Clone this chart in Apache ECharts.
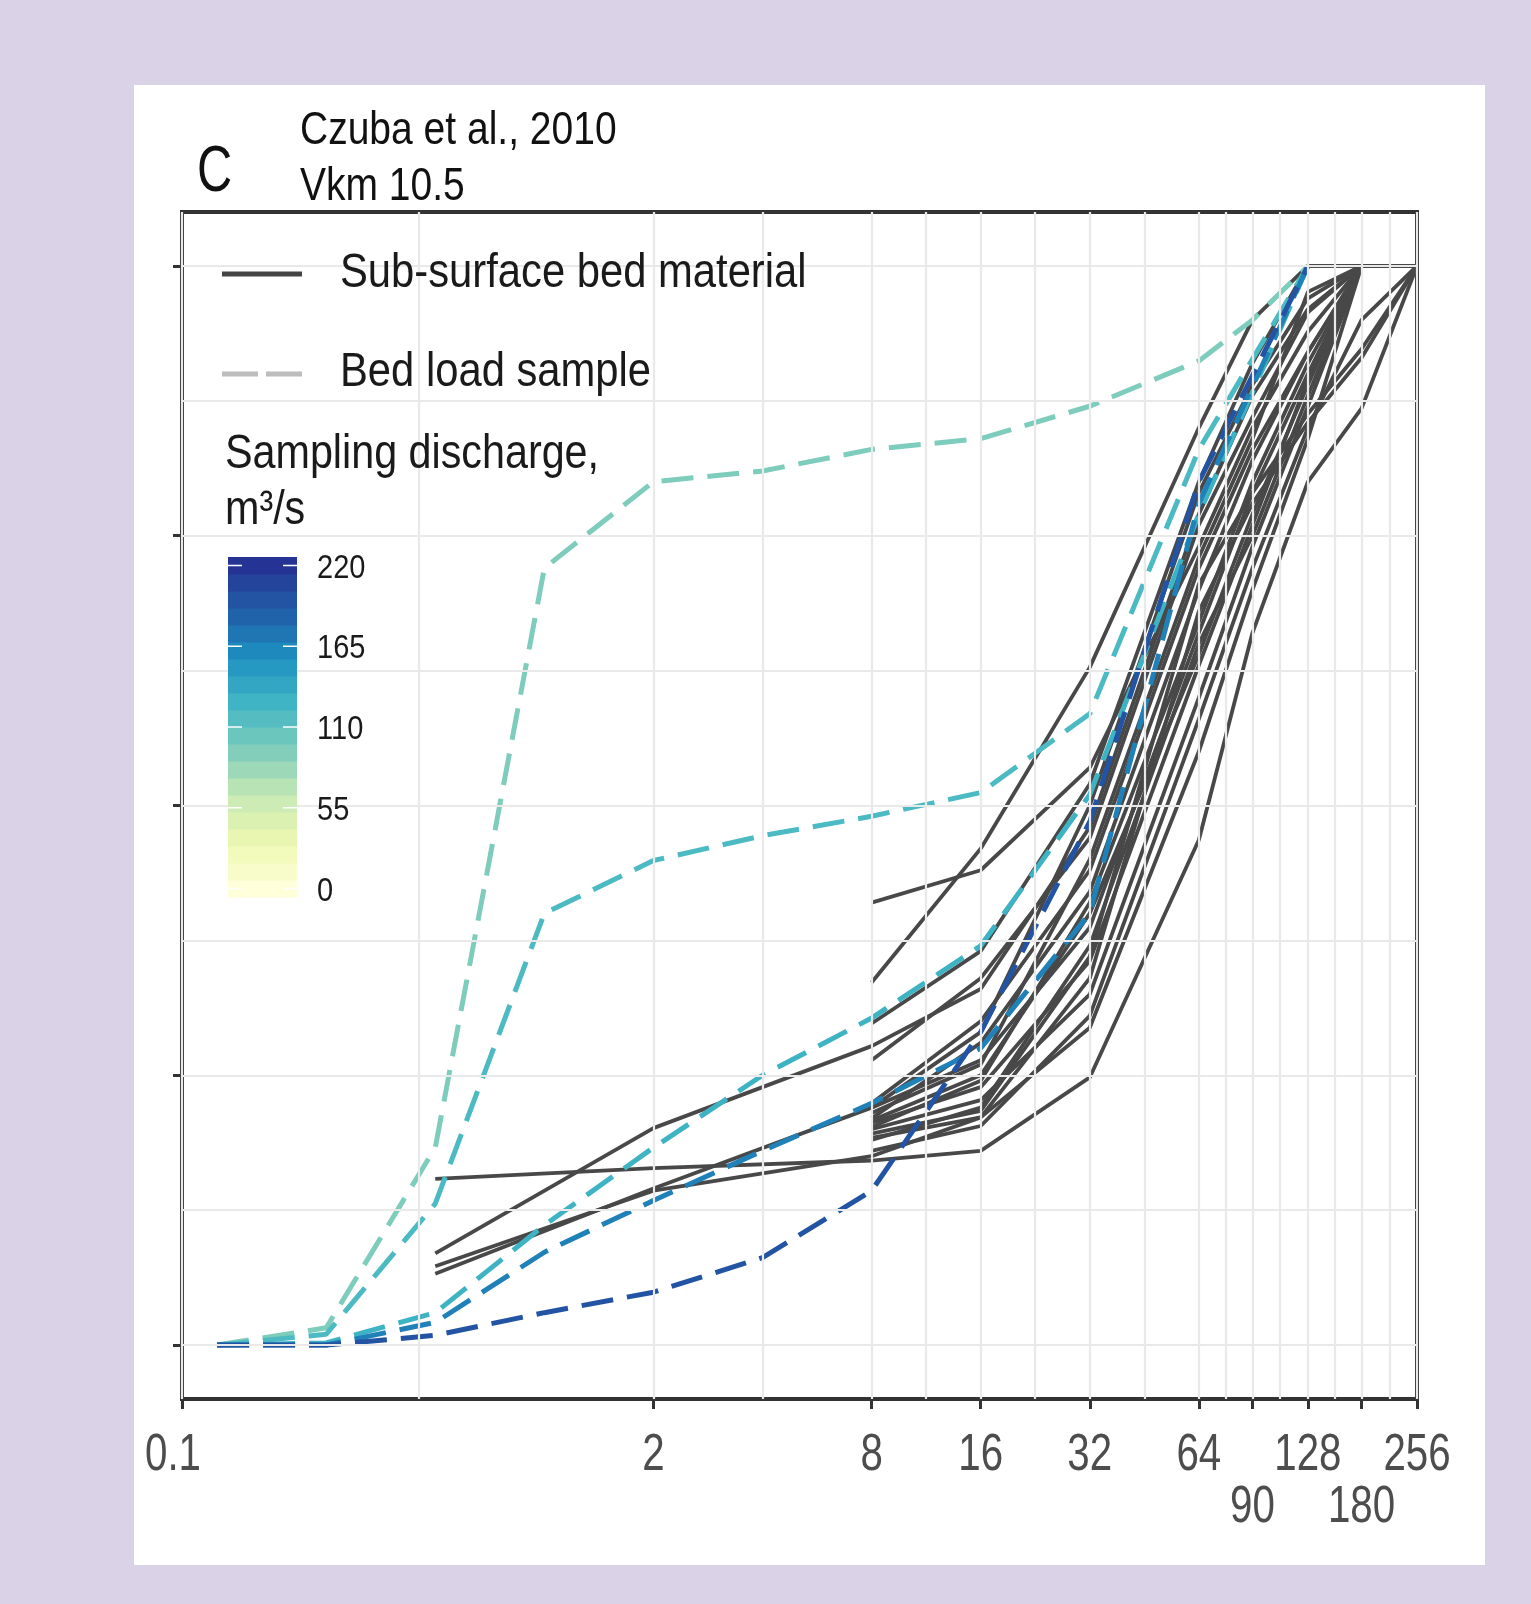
<!DOCTYPE html>
<html><head><meta charset="utf-8">
<script src="https://cdn.jsdelivr.net/npm/echarts@6/dist/echarts.min.js"></script>
<style>
html,body{margin:0;padding:0;background:#dad3e7;width:1531px;height:1604px;overflow:hidden;}
#panel{position:absolute;left:134px;top:85px;width:1351px;height:1480px;background:#ffffff;}
#chart{position:absolute;left:0;top:0;width:1531px;height:1604px;}
</style></head><body>
<div id="panel"></div><div id="chart"></div>
<script>
// ---------------- DATA ----------------
// Tick values / labels on the grain-size axis (mm)
const xTickValues = [0.1, 2, 8, 16, 32, 64, 90, 128, 180, 256];
const xTickLabels = ['0.1', '2', '8', '16', '32', '64', '90', '128', '180', '256'];
const xTickSecondRow = ['90', '180'];
const yTickValues = [0, 25, 50, 75, 100];
const yGridValues = [0, 12.5, 25, 37.5, 50, 62.5, 75, 87.5, 100];
const colorbarTicks = [0, 55, 110, 165, 220];

// Bed load samples (dashed), sieve sizes in mm
const bedLoadSizes = [0.125, 0.25, 0.5, 1, 2, 4, 8, 16, 32, 64, 90, 128];
const bedLoadDischarge = [95, 120, 128, 167, 196];
const bedLoad1 = [0, 1.6, 18.3, 72, 80, 81, 83, 84, 87, 91.2, 95, 100];
const bedLoad2 = [0, 1.0, 13.1, 40, 44.9, 47.2, 49, 51.2, 58.5, 83, null, 100];
const bedLoad3 = [0, 0.2, 3.0, 11.1, 18.3, 25, 30.3, 37, 51, 77, null, 100];
const bedLoad4 = [0, 0, 2.1, 8.6, 13.4, 18, 22.4, 27.5, 40, 78, null, 100];
const bedLoad5 = [0, 0, 0.9, 3.0, 4.9, 8.1, 14.3, 29, 48.5, 80, null, 100];

// Sub-surface bed material (solid), sieve sizes in mm
const subSizes = [0.5, 2, 8, 16, 32, 64, 90, 128, 180, 256];
const sub01 = [15.4, 16.4, 17.1, 18.0, 24.8, 46.8, 66.0, 80.0, 86.8, 100];
const sub02 = [8.5, 20.1, 27.7, 33.0, 48.0, 77.0, 88.0, 96.0, 100, 100];
const sub03 = [7.3, 14.3, 17.5, 21.1, 29.4, 55.0, 70.0, 84.0, 100, 100];
const sub04 = [6.6, 14.5, 22.0, 26.4, 38.7, 66.0, 79.0, 90.0, 100, 100];
const sub05 = [null, null, 41.0, 44.0, 53.5, 74.0, 85.0, 93.9, 100, 100];
const sub06 = [null, null, 33.6, 46.0, 62.8, 85.0, 95.0, 100, 100, 100];
const sub07 = [null, null, 29.8, 36.5, 52.0, 80.0, 91.0, 100, 100, 100];
const sub08 = [null, null, 26.4, 34.0, 47.0, 76.0, 86.0, 95.7, 100, 100];
const sub09 = [null, null, 22.4, 30.0, 44.0, 72.0, 83.0, 92.0, 100, 100];
const sub10 = [null, null, 21.0, 28.0, 42.0, 70.0, 82.0, 92.0, 100, 100];
const sub11 = [null, null, 20.6, 23.9, 35.6, 63.0, 76.0, 89.5, 100, 100];
const sub12 = [null, null, 20.0, 22.7, 32.5, 60.0, 74.0, 87.0, 100, 100];
const sub13 = [null, null, 19.6, 21.7, 36.0, 70.5, 79.0, 86.3, 92.3, 100];
const sub14 = [null, null, 19.2, 21.1, 34.0, 68.0, 78.0, 85.5, 91.5, 100];
const sub15 = [null, null, 20.8, 25.0, 40.0, 64.0, 77.0, 89.0, 100, 100];
const sub16 = [null, null, 21.5, 26.0, 45.0, 73.0, 84.0, 97.6, 100, 100];
const sub17 = [null, null, 18.0, 20.3, 30.5, 58.0, 72.0, 85.0, 95.0, 100];
const sub18 = [null, null, 22.0, 29.0, 50.0, 79.0, 89.0, 97.0, 100, 100];
const sub19 = [null, null, 20.2, 24.5, 41.0, 67.0, 80.0, 91.0, 100, 100];
const sub20 = [null, null, 19.0, 22.0, 37.0, 65.0, 75.0, 88.0, 100, 100];

const bedLoadSeriesData = [bedLoad1, bedLoad2, bedLoad3, bedLoad4, bedLoad5];
const subSeriesData = [sub01, sub02, sub03, sub04, sub05, sub06, sub07, sub08, sub09, sub10,
  sub11, sub12, sub13, sub14, sub15, sub16, sub17, sub18, sub19, sub20];

// ---------------- STYLE ----------------
const FONT = "'Liberation Sans','Arimo','Roboto',sans-serif";
const paletteStops = ['#ffffd9', '#edf8b1', '#c7e9b4', '#7fcdbb', '#41b6c4', '#1d91c0', '#225ea8', '#253494'];
const Q_MAX = 220;
function hexToRgb(h) { return [parseInt(h.slice(1, 3), 16), parseInt(h.slice(3, 5), 16), parseInt(h.slice(5, 7), 16)]; }
function dischargeColor(q) {
  const t = Math.max(0, Math.min(1, q / Q_MAX)) * (paletteStops.length - 1);
  const i = Math.min(paletteStops.length - 2, Math.floor(t));
  const f = t - i;
  const a = hexToRgb(paletteStops[i]), b = hexToRgb(paletteStops[i + 1]);
  const c = a.map((v, k) => Math.round(v + (b[k] - v) * f));
  return 'rgb(' + c.join(',') + ')';
}
function pairs(xs, ys) {
  return xs.map((x, i) => [x, ys[i]]).filter(p => p[1] !== null && p[1] !== undefined);
}

// gridlines: major ticks + geometric midpoints (minor), as ggplot does on a log scale
const xGridValues = [];
xTickValues.forEach((v, i) => {
  xGridValues.push(v);
  if (i < xTickValues.length - 1) xGridValues.push(Math.sqrt(v * xTickValues[i + 1]));
});

const series = [];
series.push({
  type: 'line', data: [], z: 1, silent: true, animation: false,
  markLine: {
    silent: true, animation: false, symbol: ['none', 'none'], label: { show: false },
    lineStyle: { color: '#e9e9e9', width: 2.2, type: 'solid' },
    emphasis: { disabled: true },
    data: xGridValues.map(v => ({ xAxis: v })).concat(yGridValues.map(v => ({ yAxis: v })))
  }
});
subSeriesData.forEach((arr) => {
  series.push({
    name: 'Sub-surface bed material', type: 'line', data: pairs(subSizes, arr),
    symbol: 'none', showSymbol: false, z: 3, animation: false, silent: true,
    lineStyle: { color: '#484848', width: 3.8 }
  });
});
bedLoadSeriesData.forEach((arr, i) => {
  series.push({
    name: 'Bed load sample', type: 'line', data: pairs(bedLoadSizes, arr),
    symbol: 'none', showSymbol: false, z: 4, animation: false, silent: true,
    lineStyle: { color: dischargeColor(bedLoadDischarge[i]), width: 5, type: [32, 14] }
  });
});

// ---------------- GRAPHIC (titles, legend, colorbar) ----------------
const graphics = [];
const DY = 3;
function txt(text, x, y, size, color, sx, align) {
  graphics.push({
    type: 'text', x: x, y: y + DY, z: 10, scaleX: sx, silent: true,
    style: { text: text, fontSize: size, fontFamily: FONT, fill: color, verticalAlign: 'middle', align: align || 'left' }
  });
}
txt('C', 197, 170, 65, '#111', 0.75);
txt('Czuba et al., 2010', 300, 128, 47, '#111', 0.83);
txt('Vkm 10.5', 300, 184, 47, '#111', 0.83);
graphics.push({ type: 'line', z: 10, silent: true, shape: { x1: 222, y1: 274, x2: 302, y2: 274 }, style: { stroke: '#444', lineWidth: 5 } });
txt('Sub-surface bed material', 340, 271, 48, '#1a1a1a', 0.87);
graphics.push({ type: 'line', z: 10, silent: true, shape: { x1: 222, y1: 374, x2: 302, y2: 374 }, style: { stroke: '#bdbdbd', lineWidth: 5, lineDash: [36, 8] } });
txt('Bed load sample', 340, 370, 48, '#1a1a1a', 0.87);
txt('Sampling discharge,', 225, 452, 48, '#1a1a1a', 0.86);
txt('m³/s', 225, 508, 48, '#1a1a1a', 0.86);

// colorbar: 20 bins like ggplot
const CB_X = 228, CB_W = 69, CB_BOTTOM = 897, CB_BIN = 17, NBIN = 20;
for (let k = 0; k < NBIN; k++) {
  const q = k * Q_MAX / (NBIN - 1);
  graphics.push({ type: 'rect', z: 10, silent: true, shape: { x: CB_X, y: CB_BOTTOM - (k + 1) * CB_BIN, width: CB_W, height: CB_BIN + 0.6 }, style: { fill: dischargeColor(q) } });
}
colorbarTicks.forEach(q => {
  const y = CB_BOTTOM - CB_BIN / 2 - q / Q_MAX * (NBIN - 1) * CB_BIN;
  graphics.push({ type: 'line', z: 11, silent: true, shape: { x1: CB_X, y1: y, x2: CB_X + 14, y2: y }, style: { stroke: '#ffffff', lineWidth: 1.5 } });
  graphics.push({ type: 'line', z: 11, silent: true, shape: { x1: CB_X + CB_W - 14, y1: y, x2: CB_X + CB_W, y2: y }, style: { stroke: '#ffffff', lineWidth: 1.5 } });
  txt(String(q), 317, y, 33, '#1a1a1a', 0.88);
});

// ---------------- CHART ----------------
const chart = echarts.init(document.getElementById('chart'), null, { renderer: 'canvas' });
chart.setOption({
  animation: false,
  backgroundColor: 'transparent',
  grid: { left: 182, top: 212, width: 1235, height: 1187, show: true, borderColor: '#333', borderWidth: 4, backgroundColor: 'transparent', containLabel: false },
  xAxis: {
    type: 'log', logBase: 10, min: 0.1, max: 256,
    axisLine: { show: true, onZero: false, lineStyle: { color: '#333', width: 4 } },
    axisTick: { show: true, customValues: xTickValues, length: 10, lineStyle: { color: '#333', width: 3 } },
    axisLabel: { show: false },
    splitLine: { show: false }, minorTick: { show: false }, minorSplitLine: { show: false }
  },
  yAxis: {
    type: 'value', min: -5, max: 105,
    axisLine: { show: true, onZero: false, lineStyle: { color: '#333', width: 4 } },
    axisTick: { show: true, customValues: yTickValues, length: 9, lineStyle: { color: '#333', width: 3 } },
    axisLabel: { show: false },
    splitLine: { show: false }
  },
  series: series
});

// x tick labels, placed through the axis scale (two rows like the original)
xTickValues.forEach((v, i) => {
  const px = chart.convertToPixel({ xAxisIndex: 0 }, v);
  const lab = xTickLabels[i];
  const second = xTickSecondRow.indexOf(lab) >= 0;
  const nudge = (i === 0) ? -9 : 0;
  txt(lab, px + nudge, second ? 1505 : 1453, 51, '#4d4d4d', 0.79, 'center');
});
chart.setOption({ graphic: { elements: graphics } });
</script>
</body></html>
